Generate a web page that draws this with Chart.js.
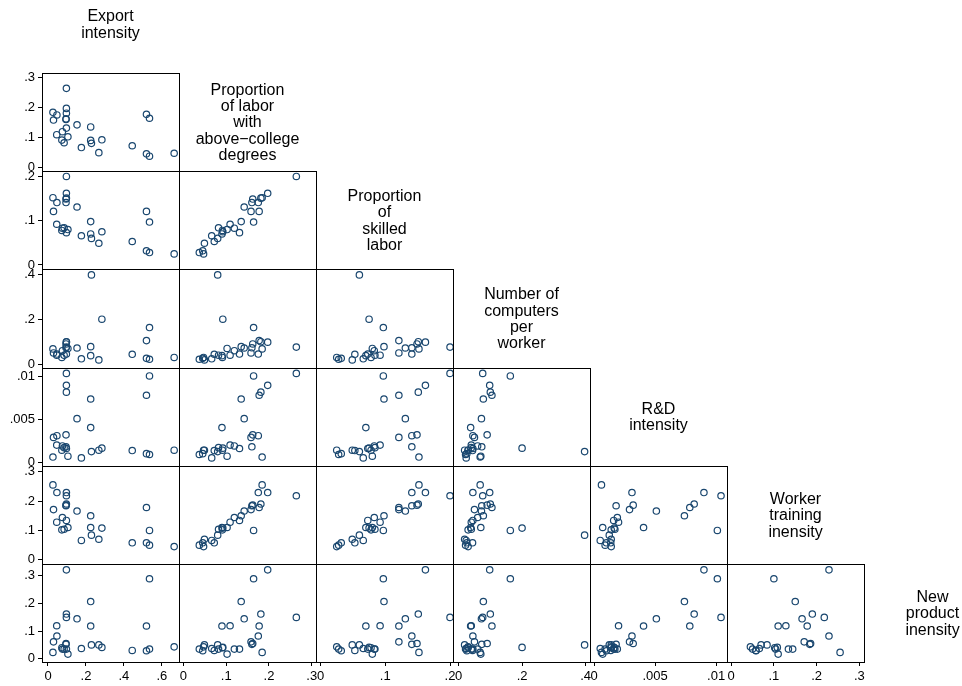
<!DOCTYPE html>
<html>
<head>
<meta charset="utf-8">
<script src="https://cdn.jsdelivr.net/npm/chart.js@4"></script>
<style>
  body { margin: 0; background: #fff; }
</style>
</head>
<body>
<canvas id="matrix" width="962" height="686"></canvas>
<script>
// one entry per industry, same order in every array
var exportIntensity   = [.097, .026, .047, .097, .097, .029, .095, .095, .153, .225, .097, .076, .046, .105, .073, .085, .225, .229, .284, .176, .268, .444, .519, .535, .519, .535, .665];
var aboveCollege      = [.264, .184, .175, .197, .181, .158, .162, .160, .142, .135, .131, .119, .109, .102, .091, .082, .090, .080, .092, .066, .049, .072, .177, .164, .045, .037, .047];
var skilledLabor      = [.200, .152, .141, .162, .151, .121, .149, .141, .131, .098, .073, .083, .092, .080, .078, .084, .070, .060, .075, .066, .049, .053, .121, .097, .032, .028, .025];
var computersPerWorker= [.076, .068, .045, .098, .100, .050, .090, .073, .072, .078, .045, .060, .040, .070, .030, .040, .038, .397, .200, .024, .019, .044, .105, .163, .026, .022, .030];
var rdIntensity       = [.0104, .0006, .0031, .0090, .0082, .0029, .0032, .0018, .0051, .0074, .0016, .0019, .0020, .0007, .0014, .0017, .00405, .00124, .00164, .0005, .0014, .00136, .00784, .0101, .0010, .0009, .0014];
var trainingIntensity = [.218, .255, .229, .229, .190, .171, .186, .184, .166, .150, .134, .144, .128, .110, .102, .104, .110, .084, .108, .066, .070, .058, .178, .100, .058, .050, .045];
var newProduct        = [.149, .023, .082, .320, .161, .061, .055, .052, .144, .206, .035, .035, .119, .017, .040, .035, .118, .050, .041, .037, .050, .030, .118, .288, .029, .035, .043];

var varNames = [
  ['Export', 'intensity'],
  ['Proportion', 'of labor', 'with', 'above\u2212college', 'degrees'],
  ['Proportion', 'of', 'skilled', 'labor'],
  ['Number of', 'computers', 'per', 'worker'],
  ['R&D', 'intensity'],
  ['Worker', 'training', 'inensity'],
  ['New', 'product', 'inensity']
];

var ticksExport   = [0, .2, .4, .6];
var ticksCollege  = [0, .1, .2, .3];
var ticksSkilled  = [0, .1, .2];
var ticksComputer = [0, .2, .4];
var ticksRD       = [0, .005, .01];
var ticksTraining = [0, .1, .2, .3];
var ticksNew      = [0, .1, .2, .3];

var vars = [exportIntensity, aboveCollege, skilledLabor, computersPerWorker, rdIntensity, trainingIntensity, newProduct];
var varTicks = [ticksExport, ticksCollege, ticksSkilled, ticksComputer, ticksRD, ticksTraining, ticksNew];

// axis extents as Stata padded them
var xRange = [[-0.0316, 0.6905], [-0.0105, 0.310], [-0.007, 0.2046], [-0.0176, 0.414], [-0.00034, 0.01089], [-0.0098, 0.311]];
var yRange = [[-0.013, 0.3154], [-0.00995, 0.212], [-0.0147, 0.4218], [-0.00041, 0.01109], [-0.0136, 0.3204], [-0.0115, 0.3417]];

var navy = '#1a476f';
var font = "'Liberation Sans', Arial, sans-serif";

function stataNum(v) {
  if (v === 0) return '0';
  return String(v).replace(/^0\./, '.');
}

function axisOpts(tickVals, range, isX, idx) {
  return {
    type: 'linear',
    position: isX ? 'bottom' : 'left',
    stack: isX ? 'cols' : 'rows',
    stackWeight: 1,
    weight: isX ? idx : 10 - idx,
    min: range[0],
    max: range[1],
    afterBuildTicks: function (s) {
      s.ticks = tickVals.map(function (v) { return { value: v }; });
    },
    afterFit: function (s) {
      if (isX) s.height = 24; else s.width = 42;
    },
    ticks: {
      autoSkip: false,
      maxRotation: 0,
      padding: 3,
      color: '#000',
      font: { family: font, size: 13 },
      callback: function (v) { return stataNum(v); }
    },
    grid: { drawOnChartArea: false, drawTicks: true, tickLength: 4, color: '#000' },
    border: { display: true, color: '#000' }
  };
}

var scales = {};
for (var j = 0; j < 6; j++) scales['x' + j] = axisOpts(varTicks[j], xRange[j], true, j);
for (var i = 0; i < 6; i++) scales['y' + i] = axisOpts(varTicks[i + 1], yRange[i], false, i);

var datasets = [];
for (var r = 0; r < 6; r++) {
  for (var c = 0; c <= r; c++) {
    var xs = vars[c], ys = vars[r + 1];
    datasets.push({
      xAxisID: 'x' + c,
      yAxisID: 'y' + r,
      data: xs.map(function (v, k) { return { x: v, y: ys[k] }; }),
      pointRadius: 3.2,
      pointBorderWidth: 1.2,
      pointBorderColor: navy,
      pointBackgroundColor: 'rgba(0,0,0,0)',
      showLine: false
    });
  }
}

var framePlugin = {
  id: 'frames',
  afterDatasetsDraw: function (chart) {
    var ctx = chart.ctx;
    ctx.save();
    ctx.strokeStyle = '#000';
    ctx.lineWidth = 1;
    for (var r = 0; r < 6; r++) {
      for (var c = 0; c <= r; c++) {
        var sx = chart.scales['x' + c], sy = chart.scales['y' + r];
        var l = Math.round(sx.left), t = Math.round(sy.top);
        ctx.strokeRect(l + 0.5, t + 0.5, Math.round(sx.right) - l, Math.round(sy.bottom) - t);
      }
    }
    // variable names on the diagonal
    ctx.fillStyle = '#000';
    ctx.font = '16px ' + font;
    ctx.textAlign = 'center';
    ctx.textBaseline = 'middle';
    var lineH = 16.4;
    for (var k = 0; k < 7; k++) {
      var cx, cy;
      if (k < 6) {
        var s = chart.scales['x' + k];
        cx = (s.left + s.right) / 2;
      } else {
        var s5 = chart.scales.x5;
        cx = s5.right + (s5.right - s5.left) / 2;
      }
      if (k > 0) {
        var t2 = chart.scales['y' + (k - 1)];
        cy = (t2.top + t2.bottom) / 2;
      } else {
        var t0 = chart.scales.y0;
        cy = t0.top - (t0.bottom - t0.top) / 2;
      }
      cy += 1;
      var lines = varNames[k];
      for (var n = 0; n < lines.length; n++) {
        ctx.fillText(lines[n], cx, cy + (n - (lines.length - 1) / 2) * lineH);
      }
    }
    ctx.restore();
  }
};

new Chart(document.getElementById('matrix').getContext('2d'), {
  type: 'scatter',
  data: { datasets: datasets },
  options: {
    responsive: false,
    devicePixelRatio: 1,
    animation: false,
    layout: { padding: { top: 73, right: 98, bottom: 0, left: 0 } },
    scales: scales,
    plugins: {
      legend: { display: false },
      tooltip: { enabled: false }
    }
  },
  plugins: [framePlugin]
});
</script>
</body>
</html>
